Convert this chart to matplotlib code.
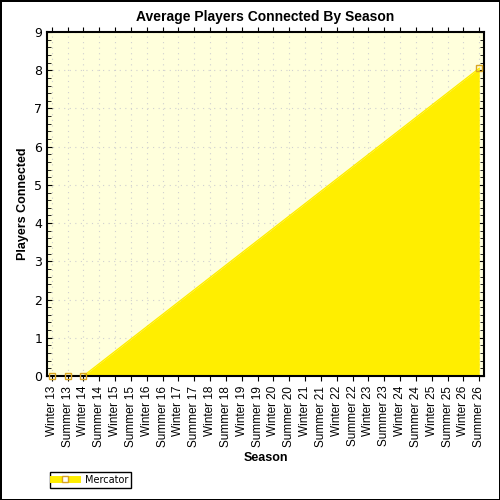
import matplotlib.pyplot as plt
import numpy as np
from matplotlib.ticker import MultipleLocator
from matplotlib.lines import Line2D

seasons = []
for yr in range(13, 27):
    seasons += ['Winter %d' % yr, 'Summer %d' % yr]
# only these seasons have a value, the rest are missing and the chart just joins the dots
known_idx = [0, 1, 2, 27]
known_val = [0, 0, 0, 8.05]

fig = plt.figure(figsize=(5, 5), dpi=100)
fig.patch.set_edgecolor('black')
fig.patch.set_linewidth(2)
ax = fig.add_axes([0.094, 0.248, 0.874, 0.688])
ax.set_facecolor('#ffffdc')

x = np.array(known_idx, dtype=float)
y = np.array(known_val)
ax.fill_between(x, 0, y, color='#ffee00', linewidth=0)
ax.plot(x, y, color='#ffee00', linewidth=1)
ax.plot(x, y, 's', ms=5, mfc='none', mec='#d9a520', mew=1, clip_on=False, zorder=5)

ax.set_xlim(-0.3, 27.3)
ax.set_ylim(0, 9)
ax.set_xticks(range(len(seasons)))
ax.set_xticklabels(seasons, rotation=90, fontsize=8.5, family='Liberation Sans')
ax.yaxis.set_major_locator(MultipleLocator(1))
ax.yaxis.set_minor_locator(MultipleLocator(0.2))
ax.tick_params(axis='y', labelsize=9, right=True, which='both', direction='in')
ax.tick_params(axis='x', top=True, direction='out')
ax.tick_params(axis='y', which='minor', length=3)
ax.grid(True, color='#d0d0d0', linestyle=(0, (1, 4)), linewidth=0.8)
ax.set_axisbelow(True)
for s in ax.spines.values():
    s.set_linewidth(1.5)

ax.set_title('Average Players Connected By Season', fontsize=10, fontweight='bold', pad=8, family='Liberation Sans')
ax.set_xlabel('Season', fontsize=9, fontweight='bold', family='Liberation Sans')
ax.set_ylabel('Players Connected', fontsize=9, fontweight='bold', family='Liberation Sans')

h = Line2D([], [], color='#ffee00', lw=5, marker='s', ms=5, mfc='white', mec='#d9a520')
fig.legend([h], ['Mercator'], loc='lower left', bbox_to_anchor=(0.09, 0.015), fontsize=7,
           fancybox=False, edgecolor='black', framealpha=1, borderpad=0.3, handlelength=2.5)

plt.savefig('out.png')
